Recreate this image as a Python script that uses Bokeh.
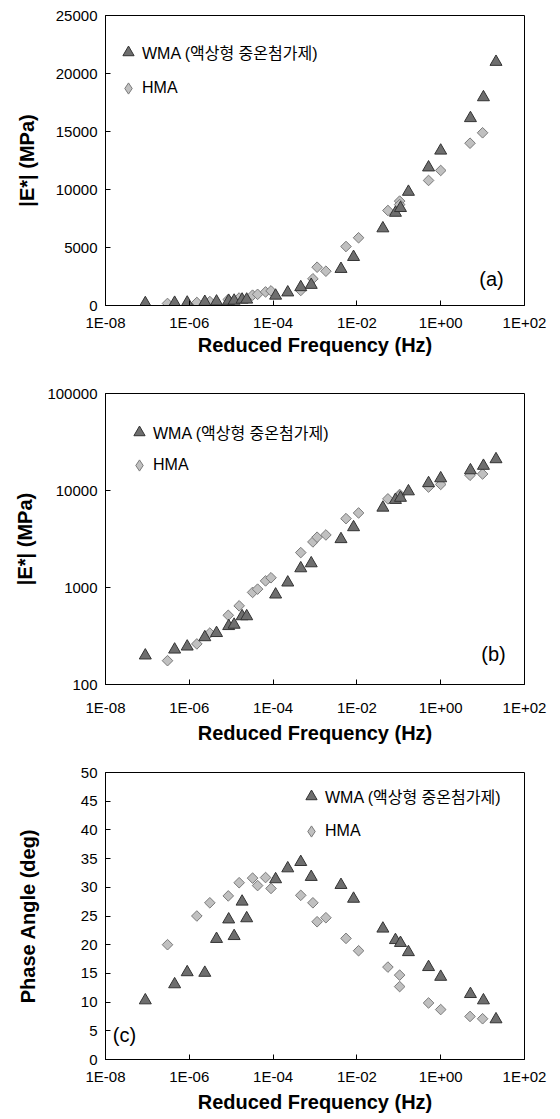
import numpy as np
from bokeh.plotting import figure
from bokeh.models import (FixedTicker, CustomJSTickFormatter, Legend, LegendItem,
                          Label, Range1d, ColumnDataSource)
from bokeh.layouts import column
from bokeh.embed import file_html
from bokeh.resources import INLINE

# ---------------- data ----------------
# log10 of reduced frequency (Hz)
wma_logf = [-7.05, -6.35, -6.05, -5.63, -5.35, -5.06, -4.93, -4.74, -4.63, -3.94, -3.65, -3.34,
            -3.09, -2.38, -2.08, -1.38, -1.08, -0.96, -0.77, -0.29, 0.00, 0.71, 1.02, 1.32]
wma_E = [199, 229, 246, 307, 339, 400, 413, 505, 505, 846, 1125, 1577,
         1775, 3150, 4180, 6650, 7990, 8400, 9800, 11900, 13350, 16150, 17950, 21000]
wma_phase = [10.3, 13.1, 15.2, 15.1, 21.0, 24.4, 21.5, 27.5, 24.6, 31.4, 33.3, 34.4,
             31.8, 30.4, 28.0, 22.8, 20.8, 20.3, 18.7, 16.1, 14.4, 11.4, 10.3, 7.0]

hma_logf = [-6.52, -5.82, -5.51, -5.07, -4.81, -4.49, -4.37, -4.18, -4.05, -3.34, -3.05,
            -2.95, -2.74, -2.26, -1.96, -1.26, -0.98, -0.98, -0.29, 0.00, 0.70, 1.00]
hma_E_a = [176, 262, 339, 517, 647, 890, 962, 1170, 1260, 1293, 2302,
           3302, 2957, 5086, 5840, 8190, 9000, 8700, 10780, 11640, 13990, 14890]
hma_E_b = [176, 262, 339, 517, 647, 890, 962, 1170, 1260, 2290, 2950,
           3300, 3480, 5130, 5870, 8200, 9100, 8800, 10850, 11550, 14350, 14800]
hma_phase = [20.0, 25.0, 27.3, 28.5, 30.8, 31.6, 30.3, 31.7, 29.8, 28.6, 27.3,
             24.0, 24.7, 21.1, 18.95, 16.1, 14.7, 12.7, 9.85, 8.7, 7.5, 7.1]

x_ticks = [1e-8, 1e-6, 1e-4, 1e-2, 1e0, 1e2]
wma_label = "WMA (액상형 중온첨가제)"
hma_label = "HMA"

FONT = "Liberation Sans"
LEG_FONT = "Liberation Sans, Noto Sans CJK KR"

wma_f = [10 ** v for v in wma_logf]
hma_f = [10 ** v for v in hma_logf]

x_fmt = CustomJSTickFormatter(code="""
const e = Math.round(Math.log10(tick));
const a = Math.abs(e);
return '1E' + (e < 0 ? '-' : '+') + (a < 10 ? '0' + a : '' + a);
""")
plain_fmt = CustomJSTickFormatter(code="return Math.round(tick).toString();")

TRI_FILL, TRI_LINE = "#6e6e6e", "#333333"
DIA_FILL, DIA_LINE = "#c0c0c0", "#7a7a7a"


def make_fig(height, bl, br, bt, bb, y_type, y_range, y_ticks, y_label, y_std,
             wma_y, hma_y, leg_xy, leg_spacing, panel_txt, panel_xy, x_std, x_lab_std):
    p = figure(width=560, height=height, x_axis_type="log", y_axis_type=y_type,
               x_range=Range1d(1e-8, 1e2), y_range=y_range,
               output_backend="svg", toolbar_location=None,
               min_border_left=bl, min_border_right=br,
               min_border_top=bt, min_border_bottom=bb)
    p.grid.visible = False
    p.outline_line_color = "black"
    p.outline_line_width = 1
    p.background_fill_color = "white"
    p.border_fill_color = "white"

    p.xaxis.ticker = FixedTicker(ticks=x_ticks)
    p.xaxis.formatter = x_fmt
    p.yaxis.ticker = FixedTicker(ticks=y_ticks)
    if y_type == "log":
        p.yaxis.formatter = plain_fmt
    for ax in (p.xaxis[0], p.yaxis[0]):
        ax.major_tick_in = 5
        ax.major_tick_out = 0
        ax.minor_tick_line_color = None
        ax.axis_line_color = "black"
        ax.major_tick_line_color = "black"
        ax.major_label_text_font = FONT
        ax.major_label_text_font_size = "15px"
        ax.major_label_text_color = "black"
        ax.axis_label_text_font = FONT
        ax.axis_label_text_font_size = "20px"
        ax.axis_label_text_font_style = "bold"
        ax.axis_label_text_color = "black"
        ax.major_label_standoff = 8
    p.xaxis.major_label_standoff = x_lab_std
    p.xaxis.axis_label = "Reduced Frequency (Hz)"
    p.xaxis.axis_label_standoff = x_std
    p.yaxis.axis_label = y_label
    p.yaxis.axis_label_standoff = y_std

    src_w = ColumnDataSource(dict(x=wma_f, y=wma_y))
    src_h = ColumnDataSource(dict(x=hma_f, y=hma_y))
    p.scatter("x", "y", source=src_h, marker="square", angle=np.pi / 4, size=7.5,
              fill_color=DIA_FILL, line_color=DIA_LINE, line_width=1)
    rw = p.scatter("x", "y", source=src_w, marker="triangle", size=12,
                   fill_color=TRI_FILL, line_color=TRI_LINE, line_width=1)
    # legend-only glyph for the diamond symbol (legend markers are drawn unrotated);
    # it holds a single NaN point so nothing appears in the plot area
    rh_leg = p.scatter(x=[np.nan], y=[np.nan], marker="diamond", size=12,
                       fill_color=DIA_FILL, line_color=DIA_LINE, line_width=1)

    leg = Legend(items=[LegendItem(label=wma_label, renderers=[rw]),
                        LegendItem(label=hma_label, renderers=[rh_leg])],
                 location=leg_xy, orientation="vertical",
                 border_line_color=None, background_fill_alpha=0,
                 padding=0, margin=0, glyph_width=28, glyph_height=28,
                 label_height=20, label_standoff=0, spacing=leg_spacing,
                 label_text_font=LEG_FONT, label_text_font_size="16px",
                 label_text_color="black")
    p.add_layout(leg, "center")

    p.add_layout(Label(x=panel_xy[0], y=panel_xy[1], x_units="screen", y_units="screen",
                       text=panel_txt, text_font=FONT, text_font_size="20px",
                       text_align="center", text_baseline="middle", text_color="black"))
    return p


pa = make_fig(378, 105, 32, 15, 73, "linear", Range1d(0, 25000),
              [0, 5000, 10000, 15000, 20000, 25000], "|E*| (MPa)", 15,
              wma_E, hma_E_a, (9, 203), 8, "(a)", (386, 27), 0, 8)
pb = make_fig(382, 103, 36, 15, 76, "log", Range1d(100, 100000),
              [100, 1000, 10000, 100000], "|E*| (MPa)", 8,
              wma_E, hma_E_b, (20, 205), 5, "(b)", (388, 31), 3, 14)
pc = make_fig(355, 100, 31, 12, 52, "linear", Range1d(0, 50),
              [0, 5, 10, 15, 20, 25, 30, 35, 40, 45, 50], "Phase Angle (deg)", 39,
              wma_phase, hma_phase, (192, 214), 7, "(c)", (19, 25), 3, 8)

layout = column(pa, pb, pc, spacing=0)
open("out.html", "w").write(file_html(layout, INLINE))
